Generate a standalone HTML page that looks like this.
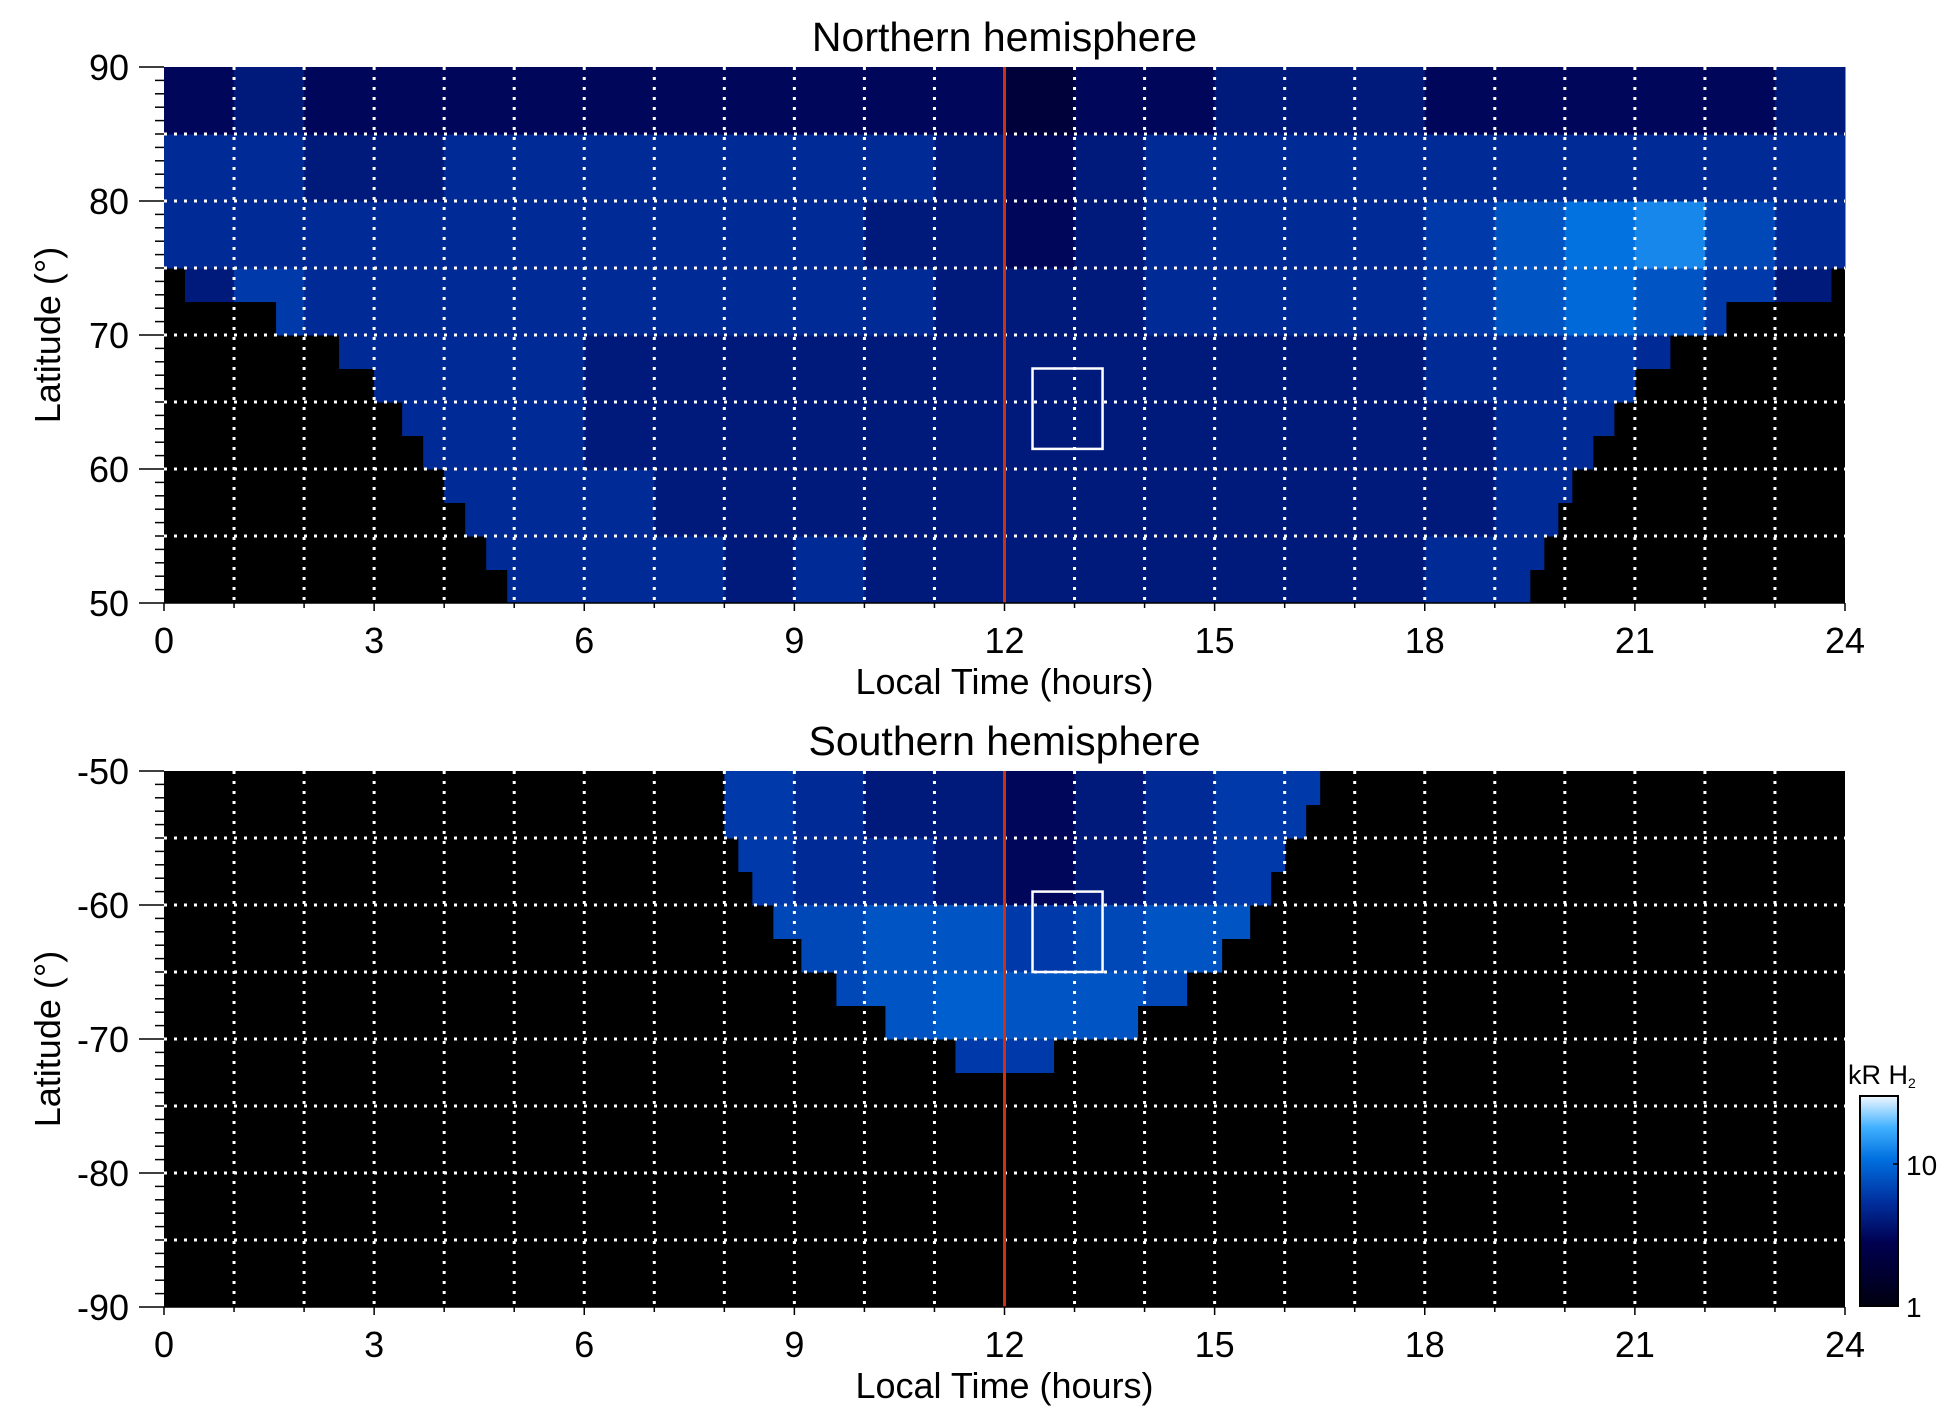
<!DOCTYPE html>
<html><head><meta charset="utf-8"><style>
body{margin:0;background:#fff;}
svg{display:block;font-family:"Liberation Sans",sans-serif;}
</style></head><body>
<svg id="fig" width="1950" height="1423" viewBox="0 0 1950 1423">
<defs>
<linearGradient id="cbg" x1="0" y1="1" x2="0" y2="0">
<stop offset="0" stop-color="#000010"/><stop offset="0.3" stop-color="#000050"/><stop offset="0.5" stop-color="#0030a0"/><stop offset="0.7" stop-color="#0070e0"/><stop offset="0.85" stop-color="#40b0ff"/><stop offset="1" stop-color="#f0f8ff"/>
</linearGradient>
</defs>
</svg>
<script>
const hours = [0,1,2,3,4,5,6,7,8,9,10,11,12,13,14,15,16,17,18,19,20,21,22,23];
const xTickLabels = ["0","3","6","9","12","15","18","21","24"];
const northYTicks = ["50","60","70","80","90"];
const southYTicks = ["-90","-80","-70","-60","-50"];
const northBandTops = [90,85,80,75,70,65,60,55];
const northIntensity = [
[3,4,3,3,3,3,3,3,3,3,3,3,2,3,3,4,4,4,3,3,3,3,3,4],
[5,5,4,4,5,5,5,5,5,5,5,4,3,4,5,5,5,5,5,5,5,5,5,5],
[5,5,5,5,5,5,5,5,5,5,4,4,3,4,5,5,5,5,6,8,11,13,7,5],
[4,6,5,5,5,5,5,5,5,5,5,4,4,4,5,5,5,5,6,8,10,8,6,4],
[5,5,5,5,5,5,4,4,4,4,4,4,4,4,4,4,4,4,5,5,6,5,5,5],
[5,5,5,5,5,5,4,4,4,4,4,4,4,4,4,4,4,4,4,5,5,5,5,5],
[5,5,5,5,5,5,5,4,4,4,4,4,4,4,4,4,4,4,4,5,5,5,5,5],
[5,5,5,5,5,5,5,5,4,5,4,4,4,4,4,4,4,4,5,5,5,5,5,5]];
const northRowLat = [50,52.5,55,57.5,60,62.5,65,67.5,70,72.5,75,77.5,80,82.5,85,87.5];
const northStart = [4.9,4.6,4.3,4.0,3.7,3.4,3.0,2.5,1.6,0.3,0,0,0,0,0,0];
const northEnd = [19.5,19.7,19.9,20.1,20.4,20.7,21.0,21.5,22.3,23.8,24,24,24,24,24,24];
const southBandTops = [-50,-55,-60,-65,-70];
const southIntensity = [
[0,0,0,0,0,0,0,0,6,5,4,4,3,4,5,6,6,0,0,0,0,0,0,0],
[0,0,0,0,0,0,0,0,6,5,5,4,3,4,5,6,6,0,0,0,0,0,0,0],
[0,0,0,0,0,0,0,0,7,7,8,8,6,7,8,8,7,0,0,0,0,0,0,0],
[0,0,0,0,0,0,0,0,7,7,8,9,8,8,7,6,6,0,0,0,0,0,0,0],
[0,0,0,0,0,0,0,0,0,0,6,6,6,6,6,0,0,0,0,0,0,0,0,0]];
const southRowLat = [-50,-52.5,-55,-57.5,-60,-62.5,-65,-67.5,-70];
const southStart = [7.9,8.0,8.2,8.4,8.7,9.1,9.6,10.3,11.3];
const southEnd = [16.5,16.3,16.0,15.8,15.5,15.1,14.6,13.9,12.7];

const svg=document.getElementById('fig');
const NS='http://www.w3.org/2000/svg';
function mk(tag,attrs,parent){const e=document.createElementNS(NS,tag);for(const k in attrs)e.setAttribute(k,attrs[k]);(parent||svg).appendChild(e);return e;}
const X0=164,X1=1845;
const xs=h=>X0+(X1-X0)*h/24;
const stops=[[0,[0,0,16]],[0.3,[0,0,80]],[0.5,[0,48,160]],[0.7,[0,112,224]],[0.85,[64,176,255]],[1,[240,248,255]]];
function col(v){let t=Math.log(Math.max(v,1))/Math.log(30);t=Math.min(1,t);
 for(let i=1;i<stops.length;i++){if(t<=stops[i][0]){const a=stops[i-1],b=stops[i],f=(t-a[0])/(b[0]-a[0]);
 const c=a[1].map((x,j)=>Math.round(x+(b[1][j]-x)*f));return `rgb(${c})`;}}return 'rgb(240,248,255)';}

function panel(name,yTop,yBot,latTop,latBot,bandTops,intens,rowLat,rs,re,rowDir,yTicks,title,box){
 const g=mk('g',{});
 
 
 const ys=l=>yTop+(yBot-yTop)*(latTop-l)/(latTop-latBot);
 const bg=mk('rect',{x:X0,y:yTop,width:X1-X0,height:yBot-yTop,fill:'#000'},g);
 
 
 const cells=mk('g',{},g);
 
 
 for(let r=0;r<rowLat.length;r++){
  const la=rowLat[r], lb=la+2.5*rowDir;
  const latHi=Math.max(la,lb), latLo=Math.min(la,lb), mid=(la+lb)/2;
  let bi=bandTops.findIndex(t=>mid<=t && mid>t-5);
  if(bi<0)continue;
  for(const h of hours){
   const v=intens[bi][h]; if(!v)continue;
   const a=Math.max(h,rs[r]), b=Math.min(h+1,re[r]); if(b<=a)continue;
   const c=mk('rect',{x:xs(a),y:ys(latHi),width:xs(b)-xs(a)+0.5,height:ys(latLo)-ys(latHi)+0.5,fill:col(v)},cells);
   
   
  }
 }
 for(let h=1;h<24;h++){const l=mk('line',{x1:xs(h),x2:xs(h),y1:yTop,y2:yBot,stroke:'#fff','stroke-width':3,'stroke-dasharray':'3 7'},g);
  }
 for(let l5=Math.min(latTop,latBot)+5;l5<Math.max(latTop,latBot);l5+=5){const l=mk('line',{x1:X0,x2:X1,y1:ys(l5),y2:ys(l5),stroke:'#fff','stroke-width':3,'stroke-dasharray':'3 7'},g);
  }
 const rl=mk('line',{x1:xs(12),x2:xs(12),y1:yTop,y2:yBot,stroke:'#d03010','stroke-width':3},g);
 
 const bx=mk('rect',{x:xs(box[0]),y:ys(box[2]),width:xs(box[1])-xs(box[0]),height:ys(box[3])-ys(box[2]),fill:'none',stroke:'#fff','stroke-width':2.5},g);
 
 const ax=mk('line',{x1:X0,x2:X1,y1:yBot,y2:yBot,stroke:'#000','stroke-width':1.5},g);
 
 for(let h=0;h<=24;h++){const t=mk('line',{x1:xs(h),x2:xs(h),y1:yBot,y2:yBot+(h%3==0?8:5),stroke:'#000','stroke-width':1.5},g);
  }
 xTickLabels.forEach((s,i)=>{const t=mk('text',{x:xs(i*3),y:yBot+50,'font-size':36,'text-anchor':'middle'},g);t.textContent=s;
  });
 const xt=mk('text',{x:(X0+X1)/2,y:yBot+91,'font-size':36,'text-anchor':'middle'},g);xt.textContent='Local Time (hours)';
 
 const lo=Math.min(latTop,latBot),hi=Math.max(latTop,latBot);
 for(let l=lo;l<=hi;l++){const maj=l%10==0;const t=mk('line',{x1:maj?139:155,x2:X0,y1:ys(l),y2:ys(l),stroke:'#000','stroke-width':1.5},g);
  }
 yTicks.forEach(s=>{const t=mk('text',{x:129,y:ys(+s)+13,'font-size':36,'text-anchor':'end'},g);t.textContent=s;
  });
 const yt=mk('text',{x:0,y:0,'font-size':36,'text-anchor':'middle',transform:`translate(60,${(yTop+yBot)/2}) rotate(-90)`},g);yt.textContent='Latitude (°)';
 
 const tt=mk('text',{x:(X0+X1)/2,y:yTop-16,'font-size':41,'text-anchor':'middle'},g);tt.textContent=title;
 
}
panel('north',67,603,90,50,northBandTops,northIntensity,northRowLat,northStart,northEnd,1,northYTicks,'Northern hemisphere',[12.4,13.4,67.5,61.5]);
panel('south',771,1307,-50,-90,southBandTops,southIntensity,southRowLat,southStart,southEnd,-1,southYTicks,'Southern hemisphere',[12.4,13.4,-59,-65]);

const cb=mk('rect',{x:1860,y:1096,width:38,height:210,fill:'url(#cbg)',stroke:'#000','stroke-width':2});

const cbLabels=["1","10"];
const cy=v=>1306-142*Math.log10(v);
cbLabels.forEach(s=>{const t=mk('text',{x:1906,y:cy(+s)+11,'font-size':28});t.textContent=s;
 
 const k=mk('line',{x1:1893,x2:1898,y1:cy(+s),y2:cy(+s),stroke:'#000','stroke-width':1.5});
 });
const ct=mk('text',{x:1848,y:1084,'font-size':27});ct.innerHTML='kR H<tspan font-size="14" dy="4">2</tspan>';

</script>
</body></html>
